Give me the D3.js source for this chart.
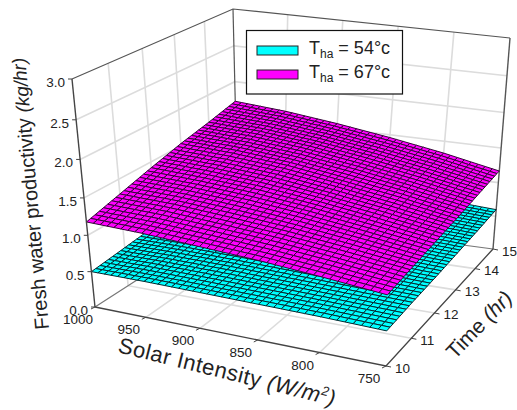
<!DOCTYPE html>
<html>
<head>
<meta charset="utf-8">
<style>
    body { margin: 0; background: #fff; }
    text { font-family: "Liberation Sans", Arial, sans-serif; fill: #222; }
</style>
<script src="https://cdn.jsdelivr.net/npm/d3@7/dist/d3.min.js"></script>
</head>
<body>
<svg id="chart" width="517" height="410"></svg>
<script>
// Axis values
const intensity = [1000, 950, 900, 850, 800, 750];
const hours = [10, 11, 12, 13, 14, 15];
const productivity = [0, 0.5, 1, 1.5, 2, 2.5, 3];

// Values read at the tick crossings: one row per hour, one column per intensity
const surface54 = [
    [0.50, 0.50, 0.49, 0.48, 0.47, 0.45],
    [0.55, 0.55, 0.54, 0.52, 0.50, 0.48],
    [0.60, 0.60, 0.58, 0.56, 0.53, 0.50],
    [0.65, 0.64, 0.62, 0.60, 0.57, 0.53],
    [0.70, 0.69, 0.67, 0.65, 0.61, 0.56],
    [0.75, 0.74, 0.72, 0.69, 0.65, 0.60]
];
const surface67 = [
    [1.18, 1.15, 1.10, 1.05, 0.98, 0.90],
    [1.30, 1.27, 1.21, 1.14, 1.05, 0.95],
    [1.42, 1.38, 1.32, 1.23, 1.12, 1.00],
    [1.53, 1.49, 1.42, 1.31, 1.19, 1.05],
    [1.62, 1.58, 1.50, 1.39, 1.26, 1.11],
    [1.72, 1.66, 1.57, 1.46, 1.33, 1.17]
];

const legendNames = ["54°c", "67°c"];
const surfaceColors = ["#00ffff", "#ff00ff"];
const meshColors = ["#04282f", "#330636"];

const svg = d3.select("#chart");

const xScale = d3.scaleLinear().domain([1000, 750]).range([0, 1]);
const tScale = d3.scaleLinear().domain([10, 15]).range([0, 1]);
const zScale = d3.scaleLinear().domain([0, 3]).range([0, 1]);

// Maps the unit square onto a four sided shape, so far edges look shorter
function makeHomography(p00, p10, p11, p01) {
    const dx1 = p10[0] - p11[0], dx2 = p01[0] - p11[0], sx = p00[0] - p10[0] + p11[0] - p01[0];
    const dy1 = p10[1] - p11[1], dy2 = p01[1] - p11[1], sy = p00[1] - p10[1] + p11[1] - p01[1];
    const den = dx1 * dy2 - dx2 * dy1;
    const g = (sx * dy2 - dx2 * sy) / den;
    const h = (dx1 * sy - sx * dy1) / den;
    const a = p10[0] - p00[0] + g * p10[0], b = p01[0] - p00[0] + h * p01[0];
    const d = p10[1] - p00[1] + g * p10[1], e = p01[1] - p00[1] + h * p01[1];
    return (u, v) => {
        const w = g * u + h * v + 1;
        return [(a * u + b * v + p00[0]) / w, (d * u + e * v + p00[1]) / w];
    };
}

// Box corners on the page, floor and ceiling
const floorAt = makeHomography([95, 307], [386, 366], [493, 249], [238, 215]);
const ceilAt = makeHomography([72, 79], [391, 114], [510, 38], [233, 9]);

function project(x, t, z) {
    const u = xScale(x);
    const v = tScale(t);
    const a = floorAt(u, v), b = ceilAt(u, v);
    const k = zScale(z);
    const f = k / (k + (1 - k) * 1.09);  // Upper part of the box is closer to the viewer
    return [a[0] + (b[0] - a[0]) * f, a[1] + (b[1] - a[1]) * f];
}

const line = d3.line();

function drawLine(pts, color, width) {
    svg.append("path")
        .attr("d", line(pts))
        .attr("fill", "none")
        .attr("stroke", color)
        .attr("stroke-width", width);
}

const xMin = intensity[0], xMax = intensity[5];
const tMin = hours[0], tMax = hours[5];
const zTop = productivity[6];
const gridColor = "#dcdcdc";

// Wall and floor grid lines
intensity.slice(1, 5).forEach(x => {
    drawLine([project(x, tMin, 0), project(x, tMax, 0), project(x, tMax, zTop)], gridColor, 1.6);
});
hours.slice(1, 5).forEach(t => {
    drawLine([project(xMax, t, 0), project(xMin, t, 0), project(xMin, t, zTop)], gridColor, 1.6);
});
productivity.slice(1, 6).forEach(z => {
    drawLine([project(xMin, tMin, z), project(xMin, tMax, z), project(xMax, tMax, z)], gridColor, 1.6);
});

// Back edges of the box
drawLine([project(xMin, tMin, 0), project(xMin, tMax, 0), project(xMax, tMax, 0)], "#777", 1.2);
drawLine([project(xMin, tMax, 0), project(xMin, tMax, zTop)], "#555", 1.2);
drawLine([project(xMax, tMax, 0), project(xMax, tMax, zTop)], "#555", 1.4);
drawLine([project(xMin, tMin, zTop), project(xMin, tMax, zTop), project(xMax, tMax, zTop)], "#555", 1.2);

// Each patch between tick crossings is split into facets, only to draw the mesh
const facets = 8;

function drawSurface(values, fill, stroke) {
    const g = svg.append("g");
    for (let r = hours.length - 2; r >= 0; r--) {
        for (let c = 0; c < intensity.length - 1; c++) {
            const at = (i, j) => {
                const s = i / facets, w = j / facets;
                const top = values[r][c] * (1 - s) + values[r][c + 1] * s;
                const bot = values[r + 1][c] * (1 - s) + values[r + 1][c + 1] * s;
                const x = intensity[c] + (intensity[c + 1] - intensity[c]) * s;
                const t = hours[r] + (hours[r + 1] - hours[r]) * w;
                return project(x, t, top * (1 - w) + bot * w);
            };
            for (let j = facets - 1; j >= 0; j--) {
                for (let i = 0; i < facets; i++) {
                    g.append("path")
                        .attr("d", line([at(i, j), at(i + 1, j), at(i + 1, j + 1), at(i, j + 1)]) + "Z")
                        .attr("fill", fill)
                        .attr("stroke", stroke)
                        .attr("stroke-width", 1);
                }
            }
        }
    }
}

drawSurface(surface54, surfaceColors[0], meshColors[0]);
drawSurface(surface67, surfaceColors[1], meshColors[1]);

// Front edges
drawLine([project(xMin, tMin, 0), project(xMax, tMin, 0), project(xMax, tMax, 0)], "#444", 1.3);
drawLine([project(xMin, tMin, 0), project(xMin, tMin, zTop)], "#444", 1.4);

// Productivity axis
productivity.forEach(z => {
    const p = project(xMin, tMin, z);
    drawLine([p, [p[0] - 4, p[1]]], "#444", 1);
    svg.append("text")
        .attr("x", p[0] - 7)
        .attr("y", p[1] + 8)
        .attr("text-anchor", "end")
        .attr("font-size", 13.5)
        .text(d3.format(".1f")(z));
});

// Solar intensity axis
intensity.forEach(x => {
    const p = project(x, tMin, 0);
    drawLine([p, [p[0] - 4, p[1] + 2]], "#444", 1);
    svg.append("text")
        .attr("x", p[0] - 17)
        .attr("y", p[1] + 17)
        .attr("text-anchor", "middle")
        .attr("font-size", 13.5)
        .text(x);
});

// Time axis
hours.forEach(t => {
    const p = project(xMax, t, 0);
    drawLine([p, [p[0] + 5, p[1] + 1]], "#444", 1);
    svg.append("text")
        .attr("x", p[0] + 9)
        .attr("y", p[1] + 6.5)
        .attr("font-size", 13.5)
        .text(t);
});

// Axis titles
const yTitle = svg.append("text")
    .attr("transform", "translate(49,329) rotate(-95)")
    .attr("font-size", 20);
yTitle.append("tspan").text("Fresh water productivity ");
yTitle.append("tspan").attr("font-style", "italic").attr("font-size", 19).text("(kg/hr)");

const xTitle = svg.append("text")
    .attr("transform", "translate(117,352) rotate(14)")
    .attr("font-size", 22)
    .attr("letter-spacing", 0.5);
xTitle.append("tspan").text("Solar Intensity ");
xTitle.append("tspan").attr("font-style", "italic").text("(W/m");
xTitle.append("tspan").attr("font-style", "italic").attr("font-size", 13).attr("dy", -8).text("2");
xTitle.append("tspan").attr("font-style", "italic").attr("dy", 8).text(")");

const tTitle = svg.append("text")
    .attr("transform", "translate(455,360) rotate(-46)")
    .attr("font-size", 21);
tTitle.append("tspan").text("Time ");
tTitle.append("tspan").attr("font-style", "italic").text("(hr)");

// Legend
svg.append("rect")
    .attr("x", 246.5).attr("y", 30.5)
    .attr("width", 156).attr("height", 63.5)
    .attr("fill", "#fff")
    .attr("stroke", "#111")
    .attr("stroke-width", 1.2);

legendNames.forEach((name, i) => {
    const y = 46 + i * 24;
    svg.append("rect")
        .attr("x", 257).attr("y", y)
        .attr("width", 41).attr("height", 9)
        .attr("fill", surfaceColors[i])
        .attr("stroke", "#222")
        .attr("stroke-width", 1);
    const label = svg.append("text")
        .attr("x", 309)
        .attr("y", y + 8)
        .attr("font-size", 18);
    label.append("tspan").text("T");
    label.append("tspan").attr("font-size", 12).attr("dy", 4).text("ha");
    label.append("tspan").attr("dy", -4).text(" = " + name);
});
</script>
</body>
</html>
